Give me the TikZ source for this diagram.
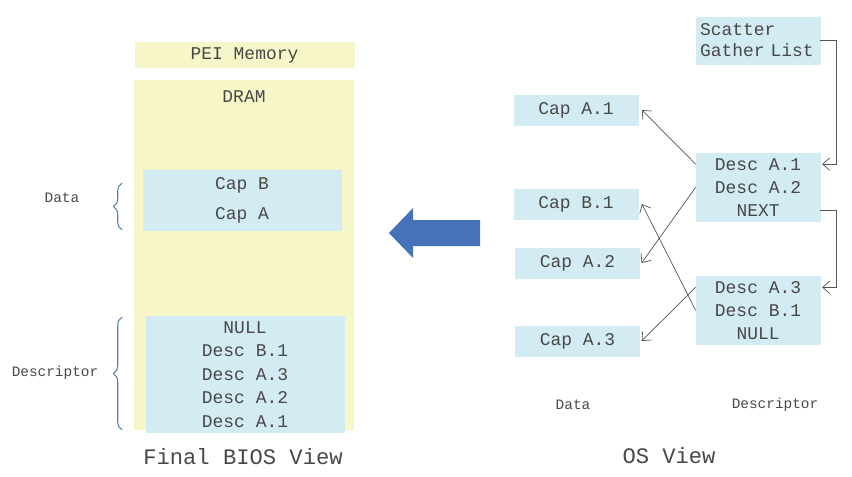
\documentclass[tikz,border=0pt]{standalone}
\usepackage{fontspec}
\setmainfont{Liberation Mono}
\usepackage{tikz}
\usetikzlibrary{positioning, arrows.meta, decorations.pathreplacing}
\definecolor{memyellow}{HTML}{F6F6C9}
\definecolor{cellblue}{HTML}{D3EBF2}
\definecolor{inkgray}{HTML}{484848}
\definecolor{linegray}{HTML}{555555}
\definecolor{braceblue}{HTML}{5A7DB8}
\definecolor{arrowblue}{HTML}{4672B9}

\begin{document}
\begin{tikzpicture}[
  mem/.style={fill=memyellow, draw=none, minimum width=4.4cm, inner sep=0pt},
  cell/.style={fill=cellblue, draw=cellblue, line width=0.4pt, minimum width=2.48cm,
    minimum height=0.6cm, inner sep=0pt, text=inkgray, font=\fontsize{10.2}{12}\selectfont},
  row/.style={cell, minimum width=3.96cm, minimum height=0.456cm},
  ptr/.style={-{Straight Barb[length=4pt, width=7pt]}, thin, color=linegray},
  note/.style={font=\fontsize{8.2}{10}\selectfont, text=inkgray},
  title/.style={font=\fontsize{12.6}{15}\selectfont, text=inkgray},
  curly/.style={decorate, decoration={brace, amplitude=0.17cm}, color=braceblue, line width=0.6pt},
]
  \useasboundingbox (0,0) rectangle (17.04,9.52);

  % BIOS side: memory map
  \node[mem, minimum height=0.52cm, text=inkgray, font=\fontsize{10.2}{12}\selectfont]
    (pei) at (4.89,8.42) {PEI Memory};
  \node[mem, minimum height=7.0cm] (dram) at (4.88,4.42) {};
  \node[text=inkgray, font=\fontsize{10.2}{12}\selectfont] (dramtxt) at (4.88,7.58) {DRAM};

  % Data area
  \node[row, minimum height=0.6cm] (capb) at (4.84,5.82) {Cap B};
  \node[row, minimum height=0.6cm, below=0pt of capb] (capa) {Cap A};

  % Descriptor area
  \node[row] (bnull) at (4.90,2.972) {NULL};
  \node[row, below=0pt of bnull] (bdb1) {Desc B.1};
  \node[row, below=0pt of bdb1] (bda3) {Desc A.3};
  \node[row, below=0pt of bda3] (bda2) {Desc A.2};
  \node[row, below=0pt of bda2] (bda1) {Desc A.1};

  % Braces
  \draw[curly] (2.44,4.92) -- (2.44,5.86);
  \node[note] (datatxt) at (1.24,5.56) {Data};
  \draw[curly] (2.44,0.92) -- (2.44,3.18);
  \node[note] (desctxt) at (1.10,2.06) {Descriptor};

  \node[title] (biostitle) at (4.86,0.38) {Final BIOS View};

  % Big arrow
  \fill[arrowblue] (7.78,4.86) -- (8.26,5.36) -- (8.26,5.12) -- (9.60,5.12)
    -- (9.60,4.60) -- (8.26,4.60) -- (8.26,4.36) -- cycle;

  % OS side: data buffers
  \node[cell] (capa1) at (11.52,7.32) {Cap A.1};
  \node[cell] (capb1) at (11.52,5.44) {Cap B.1};
  \node[cell] (capa2) at (11.55,4.26) {Cap A.2};
  \node[cell] (capa3) at (11.55,2.70) {Cap A.3};

  % OS side: descriptors
  \node[cell, minimum height=0.94cm, align=left, text width=2.32cm, inner xsep=0.08cm]
    (sgl) at (15.16,8.71) {Scatter\\Gather List};
  \node[cell, minimum height=0.447cm] (da1) at (15.16,6.236) {Desc A.1};
  \node[cell, minimum height=0.447cm, below=0pt of da1] (da2) {Desc A.2};
  \node[cell, minimum height=0.447cm, below=0pt of da2] (next) {NEXT};
  \node[cell, minimum height=0.447cm] (da3) at (15.16,3.774) {Desc A.3};
  \node[cell, minimum height=0.447cm, below=0pt of da3] (db1) {Desc B.1};
  \node[cell, minimum height=0.447cm, below=0pt of db1] (onull) {NULL};

  % List links
  \draw[ptr] (sgl.east) -- ++(0.32,0) |- ([xshift=1pt]da1.east);
  \draw[ptr] (next.east) -- ++(0.32,0) |- ([xshift=1pt]da3.east);

  % Descriptor to data
  \draw[ptr] (da1.west) -- ([xshift=2pt]capa1.east);
  \draw[ptr] (da2.west) -- ([xshift=1pt]capa2.east);
  \draw[ptr] (db1.west) -- ([xshift=2pt]capb1.east);
  \draw[ptr] (da3.west) -- ([xshift=1pt]capa3.east);

  \node[note] (osdata) at (11.46,1.42) {Data};
  \node[note] (osdesc) at (15.50,1.42) {Descriptor};
  \node[title] (ostitle) at (13.38,0.40) {OS View};
\end{tikzpicture}
\end{document}
